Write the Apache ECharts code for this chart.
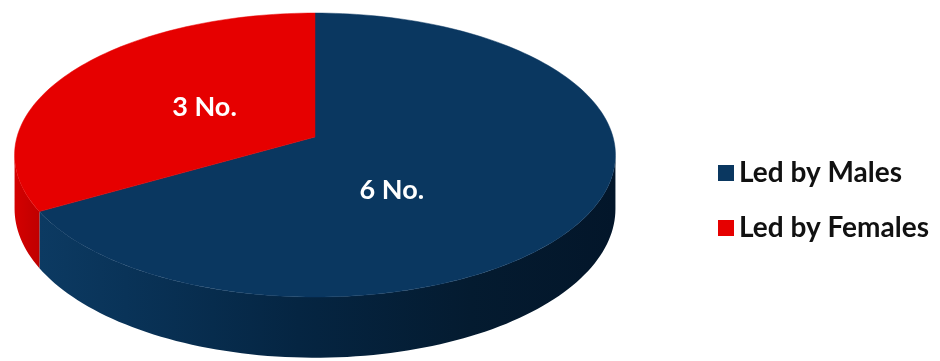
<!DOCTYPE html>
<html>
<head>
<meta charset="utf-8">
<script src="https://cdn.jsdelivr.net/npm/echarts@6/dist/echarts.min.js"></script>
<style>
  html, body { margin: 0; padding: 0; background: #ffffff; }
  #chart { width: 940px; height: 361px; }
</style>
</head>
<body>
<div id="chart"></div>
<script>
// Slices of the pie: who leads each group
const categories = ['Led by Males', 'Led by Females'];
const counts = [6, 3];
const valueLabels = counts.map(function (c) { return c + ' No.'; });

// Colours for each slice: top face, side wall gradient
const topColors = ['#0a3760', '#e60000'];
const wallStops = [
  [[0, '#0c3a62'], [0.15, '#093358'], [0.45, '#052542'], [0.75, '#041b30'], [1, '#03162a']],
  [[0, '#d40000'], [1, '#c00000']]
];
// Label anchors in disc coordinates (radius fraction, clockwise degrees from top)
const labelAnchors = [{ r: 0.44, deg: 146 }, { r: 0.44, deg: 300 }];

// Disc projection (tilted disc seen with mild perspective)
const disc = { cx: 315, cy: 137, A: 298, B: 139.7, p: 0.127, depth: 53 };

function proj(r, deg, drop) {
  const a = deg * Math.PI / 180;
  const u = r * Math.sin(a), v = r * Math.cos(a);
  const s = 1 + disc.p * v;
  return [disc.cx + disc.A * u / s, disc.cy - disc.B * v / s + (drop || 0) / s];
}

const total = counts.reduce(function (a, b) { return a + b; }, 0);
const starts = [];
let acc = 0;
counts.forEach(function (c) { starts.push(acc / total * 360); acc += c; });

// Front part of the rim whose side wall faces the viewer
const wallFrom = Math.acos(-disc.p) * 180 / Math.PI;
const wallTo = 360 - wallFrom;

function arcPoints(a0, a1, drop) {
  const pts = [];
  const n = Math.max(2, Math.ceil(Math.abs(a1 - a0) / 1.5));
  for (let i = 0; i <= n; i++) pts.push(proj(1, a0 + (a1 - a0) * i / n, drop));
  return pts;
}

function renderSlice(idx) {
  return function (params, api) {
    const value = api.value(0);
    const a0 = starts[idx];
    const a1 = a0 + value / total * 360;
    const children = [];

    // side wall
    const w0 = Math.max(a0, wallFrom), w1 = Math.min(a1, wallTo);
    if (w1 > w0) {
      const top = arcPoints(w0, w1, 0);
      const bottom = arcPoints(w0, w1, disc.depth).reverse();
      children.push({
        type: 'polygon',
        shape: { points: top.concat(bottom) },
        style: {
          fill: new echarts.graphic.LinearGradient(0, 0, 1, 0,
            wallStops[idx].map(function (s) { return { offset: s[0], color: s[1] }; })),
          stroke: null
        }
      });
    }

    // top face
    const face = [proj(0, 0, 0)].concat(arcPoints(a0, a1, 0));
    children.push({
      type: 'polygon',
      shape: { points: face },
      style: { fill: topColors[idx], stroke: topColors[idx], lineWidth: 0.5 }
    });

    // value label
    const la = labelAnchors[idx];
    const lp = proj(la.r, la.deg, 0);
    children.push({
      type: 'text',
      z2: 10,
      style: {
        text: valueLabels[idx],
        x: lp[0], y: lp[1],
        fill: '#ffffff',
        fontSize: 27,
        fontWeight: 'bold',
        fontFamily: 'Lato',
        align: 'center',
        verticalAlign: 'middle'
      }
    });

    return { type: 'group', children: children };
  };
}

const chart = echarts.init(document.getElementById('chart'), null, { renderer: 'canvas' });

chart.setOption({
  backgroundColor: '#ffffff',
  animation: false,
  legend: {
    orient: 'vertical',
    left: 713,
    top: 153,
    icon: 'rect',
    itemWidth: 16,
    itemHeight: 16,
    itemGap: 25,
    selectedMode: false,
    data: categories,
    textStyle: {
      fontFamily: 'Lato',
      fontSize: 28,
      fontWeight: 'bold',
      color: '#111111',
      lineHeight: 30
    }
  },
  series: categories.map(function (name, i) {
    return {
      type: 'custom',
      name: name,
      coordinateSystem: 'none',
      itemStyle: { color: topColors[i] },
      renderItem: renderSlice(i),
      data: [[counts[i]]]
    };
  })
});
</script>
</body>
</html>
